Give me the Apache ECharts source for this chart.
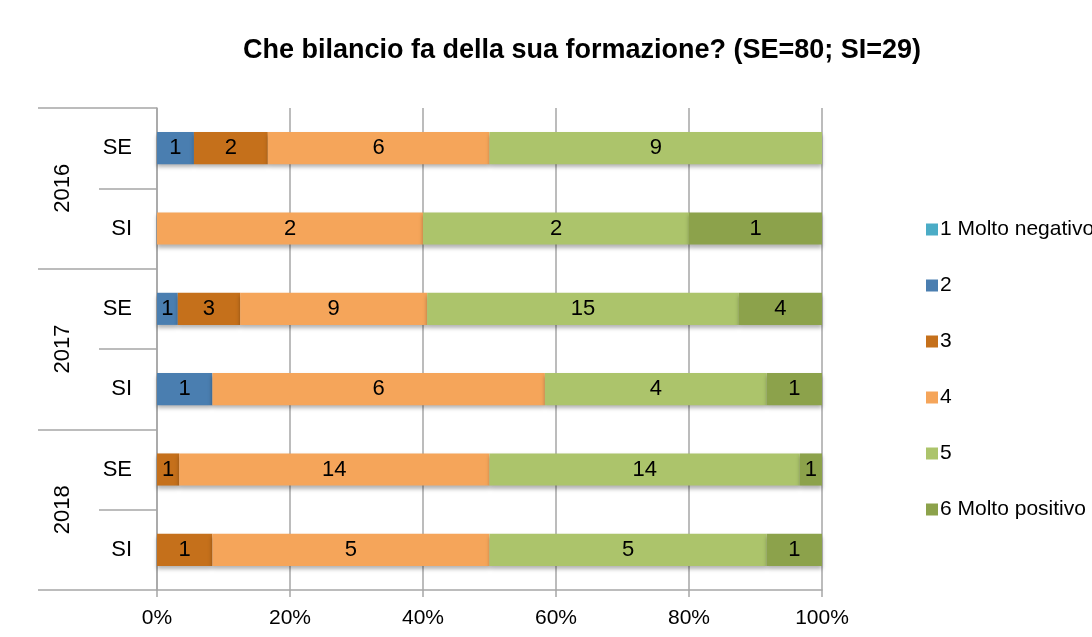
<!DOCTYPE html>
<html>
<head>
<meta charset="utf-8">
<script src="https://cdn.jsdelivr.net/npm/echarts@6/dist/echarts.min.js"></script>
<style>
  html, body { margin: 0; padding: 0; background: #fff; }
  #main { width: 1092px; height: 637px; }
</style>
</head>
<body>
<div id="main"></div>
<script>
var rows = ['SE', 'SI', 'SE', 'SI', 'SE', 'SI'];
var years = ['2016', '2017', '2018'];
var xTicks = [0, 20, 40, 60, 80, 100];

// conteggi per risposta (righe: 2016 SE, 2016 SI, 2017 SE, 2017 SI, 2018 SE, 2018 SI)
var molto_negativo = [0, 0, 0, 0, 0, 0];
var due = [1, 0, 1, 1, 0, 0];
var tre = [2, 0, 3, 0, 1, 1];
var quattro = [6, 2, 9, 6, 14, 5];
var cinque = [9, 2, 15, 4, 14, 5];
var molto_positivo = [0, 1, 4, 1, 1, 1];

var names = ['1 Molto negativo', '2', '3', '4', '5', '6 Molto positivo'];
var counts = [molto_negativo, due, tre, quattro, cinque, molto_positivo];
var colors = ['#4bacc6', '#4a7eb0', '#c5701b', '#f5a55a', '#acc46b', '#8ca24b'];

var font = "'Liberation Sans Narrow', 'Arial Narrow', 'Liberation Sans', sans-serif";

var totals = rows.map(function (r, i) {
    var t = 0;
    counts.forEach(function (c) { t += c[i]; });
    return t;
});

var myChart = echarts.init(document.getElementById('main'));

var series = counts.map(function (c, k) {
    return {
        name: names[k],
        type: 'bar',
        stack: 'tot',
        barWidth: '40%',
        data: c.map(function (v, i) { return { value: v / totals[i] * 100, n: v }; }),
        itemStyle: {
            color: colors[k],
            shadowColor: 'rgba(0,0,0,0.3)',
            shadowBlur: 4,
            shadowOffsetY: 3
        },
        label: {
            show: true,
            position: 'inside',
            color: '#000',
            fontSize: 22,
            fontFamily: font,
            formatter: function (p) { return p.data.n > 0 ? String(p.data.n) : ''; }
        }
    };
});

var option = {
    animation: false,
    title: {
        text: 'Che bilancio fa della sua formazione? (SE=80; SI=29)',
        left: 577,
        textAlign: 'center',
        top: 32,
        textStyle: { fontSize: 27, fontWeight: 'bold', color: '#000', fontFamily: font }
    },
    legend: {
        orient: 'vertical',
        left: 926,
        top: 219,
        padding: 0,
        itemWidth: 12,
        itemHeight: 12,
        itemGap: 35,
        icon: 'rect',
        data: names,
        textStyle: { fontSize: 21, color: '#000', fontFamily: font, padding: [0, 0, 0, -3] }
    },
    grid: { left: 157, right: 270, top: 108, bottom: 47 },
    xAxis: {
        type: 'value',
        min: 0,
        max: 100,
        interval: 20,
        axisLabel: { formatter: '{value}%', fontSize: 21, color: '#000', fontFamily: font, margin: 18 },
        axisLine: { show: true, lineStyle: { color: '#a6a6a6', width: 1.5 } },
        axisTick: { show: true, length: 7, lineStyle: { color: '#a6a6a6', width: 1.5 } },
        splitLine: { show: true, lineStyle: { color: '#a6a6a6', width: 1.5 } }
    },
    yAxis: [{
        type: 'category',
        inverse: true,
        data: rows,
        axisLine: { show: true, lineStyle: { color: '#a6a6a6', width: 1.5 } },
        axisTick: { show: true, length: 58, interval: 0, lineStyle: { color: '#a6a6a6', width: 1.5 } },
        axisLabel: { fontSize: 22, color: '#000', fontFamily: font, margin: 25 }
    }, {
        type: 'category',
        inverse: true,
        position: 'left',
        data: years,
        axisLine: { show: false },
        axisTick: { show: true, length: 119, interval: 0, lineStyle: { color: '#a6a6a6', width: 1.5 } },
        axisLabel: { fontSize: 22, color: '#000', fontFamily: font, rotate: 90, margin: 83 }
    }],
    series: series
};
myChart.setOption(option);
</script>
</body>
</html>
